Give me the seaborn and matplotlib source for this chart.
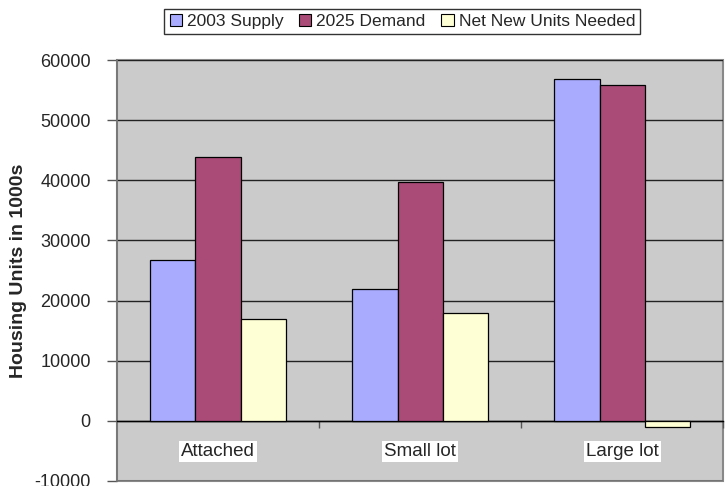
import pandas as pd
import matplotlib.pyplot as plt
import matplotlib.patches as mpatches
import seaborn as sns

categories = ['Attached', 'Small lot', 'Large lot']
series = ['2003 Supply', '2025 Demand', 'Net New Units Needed']
supply_2003 = [26800, 21900, 56800]
demand_2025 = [43900, 39800, 55800]
net_new = [16900, 17900, -1000]
y_ticks = [-10000, 0, 10000, 20000, 30000, 40000, 50000, 60000]

colors = ['#A9ABFF', '#AA4A77', '#FFFFD5']
bg = '#CBCBCB'

df = pd.DataFrame({
    'Type': categories * 3,
    'Series': [series[0]] * 3 + [series[1]] * 3 + [series[2]] * 3,
    'Units': supply_2003 + demand_2025 + net_new,
})

sns.set_style('white')
plt.rcParams['font.family'] = ['Liberation Sans', 'DejaVu Sans']
plt.rcParams['axes.unicode_minus'] = False

fig = plt.figure(figsize=(7.25, 4.86), dpi=100)
fig.set_facecolor('white')
ax = fig.add_axes([0.1614, 0.0103, 0.836, 0.8662])
ax.set_facecolor(bg)

sns.barplot(data=df, x='Type', y='Units', hue='Series', order=categories,
            hue_order=series, palette=colors, width=0.67, saturation=1,
            edgecolor='black', linewidth=0.9, ax=ax, zorder=3, legend=False)

ax.set_ylim(y_ticks[0], y_ticks[-1])
ax.set_xlim(-0.5, 2.5)
ax.set_yticks(y_ticks)
ax.yaxis.grid(True, color='#222222', lw=1, zorder=1)
ax.set_axisbelow(True)
ax.tick_params(axis='y', labelsize=13, length=7, width=1, color='#555555',
               direction='out', left=True, pad=12)

# category axis crosses at zero
ax.spines['bottom'].set_position(('data', 0))
ax.spines['bottom'].set_color('black')
ax.spines['bottom'].set_linewidth(1)
for s in ['top', 'right']:
    ax.spines[s].set_visible(False)
ax.spines['left'].set_color('#777777')
ax.spines['left'].set_linewidth(1.2)
ax.add_patch(mpatches.Rectangle((0, 0), 1, 1, transform=ax.transAxes,
                                fill=False, edgecolor='#888888', lw=1.5,
                                clip_on=False, zorder=0))

ax.set_xticks([0.5, 1.5, 2.5], minor=True)
ax.tick_params(axis='x', which='minor', length=5, width=1, color='#555555',
               direction='out', bottom=True)
ax.tick_params(axis='x', which='major', length=0, labelsize=13.5, pad=16)
ax.set_xticks(range(len(categories)))
ax.set_xticklabels(categories)
for lab in ax.get_xticklabels():
    lab.set_bbox(dict(facecolor='white', edgecolor='none', pad=1.5))

ax.set_xlabel('')
ax.set_ylabel('Housing Units in 1000s', fontsize=14, fontweight='bold')
ax.yaxis.set_label_coords(-0.148, 0.5)

handles = [mpatches.Patch(facecolor=c, edgecolor='black', lw=0.8) for c in colors]
leg = fig.legend(handles, series, loc='center', bbox_to_anchor=(0.555, 0.956),
                 ncol=3, fontsize=12.5, frameon=True, fancybox=False,
                 handlelength=0.7, handleheight=0.7, handletextpad=0.3,
                 columnspacing=0.9, borderpad=0.3, edgecolor='black')
leg.get_frame().set_linewidth(1)

fig.savefig('out.png', dpi=100)
